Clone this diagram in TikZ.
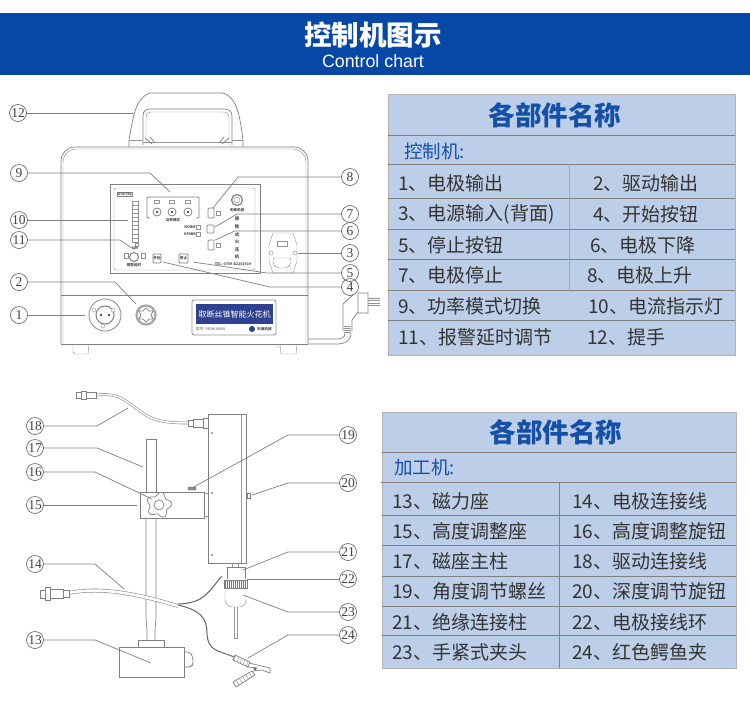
\documentclass[tikz,border=0pt]{standalone}
\usepackage{fontspec}
\setmainfont{Noto Sans CJK SC}
\newfontfamily\numfont{Liberation Serif}
\newfontfamily\latfont{Liberation Sans}
\usepackage{tikz}
\usetikzlibrary{positioning}
\definecolor{bannerblue}{HTML}{0747A6}
\definecolor{tablefill}{HTML}{BDCFE8}
\definecolor{tableblue}{HTML}{1450A8}
\definecolor{tabletext}{HTML}{333333}
\definecolor{plateblue}{HTML}{2F418F}

\begin{document}
\begin{tikzpicture}[
        x=1pt, y=-1pt,
        numtag/.style={circle, draw=black!65, line width=.6pt, inner sep=0pt, minimum size=17pt, font=\numfont\fontsize{13.5}{14}\selectfont, text=black!75},
        lead/.style={draw=black!50, line width=.7pt},
        part/.style={draw=black!50, line width=.7pt},
        thin part/.style={draw=black!42, line width=.45pt},
        cable/.style={draw=black!45, line width=.6pt, double=white, double distance=1.5pt},
        rowtext/.style={anchor=west, text=tabletext, inner sep=0pt, font=\fontsize{19}{20}\selectfont},
        headtext/.style={text=tableblue, inner sep=0pt, font=\bfseries\fontsize{26.5}{28}\selectfont},
        subtext/.style={anchor=west, text=tableblue, inner sep=0pt, font=\fontsize{18.5}{20}\selectfont},
        tiny/.style={inner sep=0pt, text=black!70, font=\bfseries\fontsize{3.6}{4}\selectfont},
        gridline/.style={draw=black!50, line width=.7pt}
      ]
      \useasboundingbox (0,0) rectangle (750,713);
      \fill[white] (0,0) rectangle (750,713);

      % banner
      \fill[bannerblue] (0,13) rectangle (750,75);
      \node[text=white, inner sep=0pt, font=\bfseries\fontsize{27.5}{28}\selectfont] (bannerzh) at (373,35) {控制机图示};
      \node[text=white, inner sep=0pt, font=\latfont\fontsize{17.8}{18}\selectfont] (banneren) at (373,61) {Control chart};

      % upper table
      \fill[tablefill] (388,94) rectangle (735,355);
      \draw[black!30, line width=.7pt] (388,94) rectangle (735,355);
      \foreach \y in {135,164,198,229,259,290,320}
        \draw[gridline] (388,\y) -- (735,\y);
      \draw[black!35, line width=1pt] (569,164) -- (569,291);
      \node[headtext] (head1) at (555,115) {各部件名称};
      \node[subtext] (sub1) at (404,151) {控制机:};
      \node[rowtext] (r1) at (398,183) {1、电极输出};
      \node[rowtext] (r2) at (593,183) {2、驱动输出};
      \node[rowtext] (r3) at (398,214) {3、电源输入(背面)};
      \node[rowtext] (r4) at (593,214) {4、开始按钮};
      \node[rowtext] (r5) at (398,245) {5、停止按钮};
      \node[rowtext] (r6) at (590,245) {6、电极下降};
      \node[rowtext] (r7) at (398,275) {7、电极停止};
      \node[rowtext] (r8) at (587,275) {8、电极上升};
      \node[rowtext] (r9) at (398,306) {9、功率模式切换};
      \node[rowtext] (r10) at (588,306) {10、电流指示灯};
      \node[rowtext] (r11) at (398,337) {11、报警延时调节};
      \node[rowtext] (r12) at (587,337) {12、提手};

      % lower table
      \fill[tablefill] (382,412) rectangle (736,668);
      \draw[black!30, line width=.7pt] (382,412) rectangle (736,668);
      \foreach \y in {452,515,545,576,606,635}
        \draw[gridline] (382,\y) -- (736,\y);
      \draw[gridline] (381,482) -- (736,482);
      \draw[gridline] (559,482) -- (559,668);
      \node[headtext] (head2) at (556,432) {各部件名称};
      \node[subtext] (sub2) at (394,467) {加工机:};
      \node[rowtext] (r13) at (392,501) {13、磁力座};
      \node[rowtext] (r14) at (572,501) {14、电极连接线};
      \node[rowtext] (r15) at (392,531) {15、高度调整座};
      \node[rowtext] (r16) at (572,531) {16、高度调整旋钮};
      \node[rowtext] (r17) at (392,561) {17、磁座主柱};
      \node[rowtext] (r18) at (572,561) {18、驱动连接线};
      \node[rowtext] (r19) at (392,591) {19、角度调节螺丝};
      \node[rowtext] (r20) at (572,591) {20、深度调节旋钮};
      \node[rowtext] (r21) at (392,622) {21、绝缘连接柱};
      \node[rowtext] (r22) at (572,622) {22、电极接线环};
      \node[rowtext] (r23) at (392,652) {23、手紧式夹头};
      \node[rowtext] (r24) at (572,652) {24、红色鳄鱼夹};

      % control box: handle
      \draw[part] (129,147) -- (129,140) .. controls (133,118) and (135,98) .. (150,93) -- (223,93) .. controls (238,98) and (240,118) .. (243,140) -- (243,147);
      \draw[part] (143,145) -- (143,116) .. controls (143,111) and (146,109) .. (150,109) -- (224,109) .. controls (229,109) and (232,111) .. (232,116) -- (232,145);
      \draw[thin part] (146,145) -- (146,118) .. controls (146,114) and (148,112) .. (151,112) -- (223,112) .. controls (227,112) and (229,114) .. (229,118) -- (229,145);
      \draw[thin part] (129,140) -- (143,140) (232,140) -- (243,140) (143,142) -- (232,142);
      \draw[part] (145,138) -- (152,144) (150,137) -- (155,143) (229,138) -- (222,144) (224,137) -- (219,143);

      % control box: body
      \draw[part, rounded corners=14pt] (61,344) -- (61,147) -- (308,147) -- (308,344);
      \draw[thin part, rounded corners=13pt] (63,344) -- (63,149) -- (306,149) -- (306,344);
      \draw[part, line width=1pt] (61,344) -- (308,344);
      \draw[part, line width=1pt] (61,295) -- (308,295);
      \draw[thin part] (73,344) -- (73,352) -- (75,354) -- (88,354) -- (89,344);
      \draw[thin part] (280,344) -- (281,354) -- (296,354) -- (297,344) (276,344) -- (276,347) -- (280,347);

      % control box: panel
      \draw[part] (110,184) rectangle (260,273);
      \draw[thin part, rounded corners=2pt] (114,188) rectangle (255,270);
      \node[draw=black!50, line width=.4pt, inner sep=.6pt, text=black!70, font=\bfseries\fontsize{3.4}{4}\selectfont] (digital) at (125,194) {DIGITAL};
      \foreach \i in {0,...,9}
        \draw[thin part] (132,{201+4.1*\i}) rectangle (138,{205.1+4.1*\i});
      \draw[part, line width=.8pt, rounded corners=1pt] (150,218) -- (147,218) -- (147,197) -- (199,197) -- (199,218) -- (196,218);
      \foreach \x in {157,172,188} {
        \draw[thin part] (\x-2.5,200) rectangle (\x+2.5,203);
        \draw[part, line width=.8pt] (\x,212) circle (4);
        \fill[black!70] (\x,212) circle (1.3);
      }
      \node[tiny] (modetext) at (173,220) {功率模式};
      \draw[thin part] (135,243) rectangle (138,246);
      \draw[thin part] (124,253) rectangle (128,258);
      \draw[thin part] (141,253) rectangle (145,258);
      \node[tiny, font=\bfseries\fontsize{3}{3}\selectfont] (alarmtop) at (135,248.5) {延时};
      \draw[part, line width=1pt] (134,257) circle (4.5);
      \node[tiny] (alarmtext) at (134,265) {报警延时};
      \draw[part, line width=.8pt, rounded corners=1pt] (153,254) rectangle (161,263);
      \node[tiny] (starttext) at (157,258.5) {开始};
      \draw[part, line width=.8pt, rounded corners=1pt] (179,254) rectangle (188,263);
      \node[tiny] (stoptext) at (183.5,258.5) {停止};
      \node[tiny] (normtext) at (190,227) {NORM};
      \node[tiny] (sparktext) at (190,234) {SPARK};
      \draw[thin part] (196,225.5) rectangle (200,229);
      \draw[thin part] (196,232.5) rectangle (200,236);
      \draw[part, rounded corners=1pt] (208,208) rectangle (214,218);
      \draw[part, rounded corners=1pt] (208,240) rectangle (214,250);
      \draw[part, rounded corners=1pt] (207,225) rectangle (214,233);
      \draw[thin part] (216,211) rectangle (220,215);
      \draw[thin part] (216,243) rectangle (220,247);
      \draw[part, line width=1.2pt] (237,200) circle (5.5);
      \draw[thin part] (237,200) circle (3);
      \node[tiny] (logotext) at (237,210) {无痕机械};
      \node[tiny, font=\bfseries\fontsize{4.4}{5}\selectfont] (vt1) at (237,219) {便};
      \node[tiny, font=\bfseries\fontsize{4.4}{5}\selectfont] (vt2) at (237,227) {携};
      \node[tiny, font=\bfseries\fontsize{4.4}{5}\selectfont] (vt3) at (237,235) {式};
      \node[tiny, font=\bfseries\fontsize{4.4}{5}\selectfont] (vt4) at (237,242) {火};
      \node[tiny, font=\bfseries\fontsize{4.4}{5}\selectfont] (vt5) at (237,250) {花};
      \node[tiny, font=\bfseries\fontsize{4.4}{5}\selectfont] (vt6) at (237,257) {机};
      \node[tiny] (teltext) at (233,264) {TEL: 0769-82261919};

      % control box: lower front
      \draw[thin part, line width=.9pt] (105,315) circle (16);
      \draw[part, line width=1pt] (105,315) circle (9);
      \fill[black!70] (101,315) circle (1.3) (109,315) circle (1.3);
      \draw[thin part, fill=white] (94,310) circle (2) (113,310) circle (2) (103,326) circle (2);
      \draw[black!35, line width=2.2pt] (146,315) circle (9.5);
      \draw[part, fill=white] plot[smooth cycle, tension=.5] coordinates {(146,308) (149,311) (153,311) (151,315) (153,319) (149,319) (146,322) (143,319) (139,319) (141,315) (139,311) (143,311)};
      \draw[thin part, rounded corners=2pt, line width=.9pt] (192,300) rectangle (276,335);
      \fill[plateblue] (196,304) rectangle (273,324);
      \node[text=white, inner sep=0pt, font=\fontsize{8}{9}\selectfont] (platetext) at (234.5,314) {取断丝锥智能火花机};
      \node[tiny, anchor=west, font=\fontsize{3.6}{4}\selectfont] (modeltext) at (196,329) {型号: YSDM-M400};
      \fill[plateblue] (252,329) circle (3);
      \node[tiny, anchor=west] (brandtext) at (257,329) {无痕机械};

      % control box: inlet and power plug
      \draw[thin part] (273,233) -- (293,233) -- (297,245) -- (297,261) -- (293,273) -- (273,273) -- (269,261) -- (269,245) -- cycle;
      \draw[thin part] (277,241) rectangle (287,246);
      \draw[thin part, rounded corners=2pt] (273,258) -- (291,258) -- (291,264) -- (287,268) -- (277,268) -- (273,264) -- cycle;
      \draw[thin part, fill=white] (271,253) circle (2) (295,253) circle (2);
      \draw[part] (343,331) -- (343,304) -- (354,294);
      \draw[part] (352,331) -- (352,320) -- (358,312) -- (358,293) -- (368,293) -- (368,313) -- (358,313);
      \draw[thin part] (368,298) -- (380,298) (368,300) -- (380,300) (368,303) -- (380,303) (368,305) -- (380,305);
      \draw[thin part] (344,326) -- (351,326) (344,328) -- (351,328) (344,330) -- (351,330) (344,332) -- (351,332);
      \draw[part] (345,333) .. controls (345,338) and (341,339) .. (336,339) -- (308,339);
      \draw[part] (351,333) .. controls (351,341) and (345,344) .. (336,344) -- (308,344);

      % machine: column and base
      \draw[part] (146,492) -- (146,439) -- (156,439) -- (156,492);
      \draw[part] (146,518) -- (146,618) -- (147,630) -- (147,640) (156,518) -- (156,618) -- (155,630) -- (155,640);
      \draw[part] (138,647) -- (138,640) -- (164,640) -- (164,647);
      \draw[part] (119,647) rectangle (184,677);
      \draw[part, rounded corners=2pt] (184,652) -- (190,652) -- (193,658) -- (193,665) -- (190,667) -- (184,667);

      % machine: clamp block and knob
      \draw[part] (140,492) rectangle (204,518);
      \draw[thin part] (204,493) -- (208,493) (204,516) -- (208,516);
      \draw[part, fill=white] plot[smooth cycle, samples=40, domain=0:351] ({159+(11+2*cos(5*\x+30))*cos(\x)},{505+(11+2*cos(5*\x+30))*sin(\x)});
      \draw[part] (159,505) circle (5);
      \draw[fill=black!45, draw=black!60, rounded corners=1pt] (188,487) rectangle (196,490);

      % machine: head
      \draw[part] (208,414) rectangle (246,563);
      \draw[thin part] (241,414) -- (241,563);
      \fill[black!70] (212,433) circle (.8) (212,493) circle (.8) (212,555) circle (.8);
      \draw[part] (247,493) rectangle (250,498);
      \draw[thin part] (232,563) -- (232,567) (238,563) -- (238,567);
      \draw[part] (227,567) -- (245,567) -- (245,579) (227,567) -- (227,579);
      \foreach \x in {225,227,...,247}
        \draw[black!55, line width=.7pt] (\x,580) -- (\x,588);
      \draw[part] (224,580) rectangle (247,588);
      \draw[thin part] (225,588) -- (225,600) .. controls (226,604) and (229,607) .. (232,607) -- (239,607) .. controls (243,607) and (246,604) .. (246,600) -- (246,588);
      \draw[thin part] (234,607) -- (234,638) -- (237,638) -- (237,607);

      % machine: cables, plugs, clamp
      \draw[cable] (96,395) .. controls (120,392) and (128,403) .. (140,411) .. controls (150,419) and (160,423) .. (188,423);
      \draw[part, fill=white] (76,392) rectangle (81,398) (81,391) rectangle (86,399) (86,392) rectangle (96,398);
      \draw[part, fill=white] (188,420) rectangle (193,426) (193,419) rectangle (203,427) (203,418) rectangle (208,428);
      \draw[cable, double distance=2.6pt] (68,593) .. controls (95,588) and (125,590) .. (178,606);
      \draw[part, fill=white] (40,590) rectangle (45,598) (45,587) rectangle (50,600) (50,589) rectangle (63,598) (63,590) rectangle (69,597);
      \draw[black!60, line width=1pt] (178,604) .. controls (205,603) and (208,592) .. (222,576);
      \draw[black!60, line width=1pt] (178,605) .. controls (200,610) and (207,618) .. (207,633) .. controls (208,652) and (218,650) .. (234,657);
      \draw[part, fill=white] (235,655) -- (250,662) -- (248,667) -- (233,660) -- cycle;
      \foreach \i in {0,...,4}
        \draw[thin part] ({236+3*\i},{655.5+1.4*\i}) -- ({234+3*\i},{660.5+1.4*\i});
      \draw[part, fill=white] (233,682) -- (252,671) -- (255,675) -- (236,687) -- cycle;
      \foreach \i in {0,...,4}
        \draw[thin part] ({236+3.2*\i},{680-2*\i}) -- ({239+3.2*\i},{685-2*\i});
      \draw[part] (249,663) -- (270,668) -- (270,673) -- (262,670) -- (253,671);
      \draw[part] (248,667) -- (258,668);
      \fill[black!60] (255,669) circle (1.6);

      % leaders: control box
      \node[numtag] (n12) at (18,113) {12};
      \node[numtag] (n9) at (19,173) {9};
      \node[numtag] (n10) at (19,220) {10};
      \node[numtag] (n11) at (19,240) {11};
      \node[numtag] (n2) at (19,282) {2};
      \node[numtag] (n1) at (19,315) {1};
      \node[numtag] (n8) at (350,177) {8};
      \node[numtag] (n7) at (350,214) {7};
      \node[numtag] (n6) at (350,231) {6};
      \node[numtag] (n3) at (350,253) {3};
      \node[numtag] (n5) at (350,273) {5};
      \node[numtag] (n4) at (350,287) {4};
      \coordinate (p12) at (133,113);
      \coordinate (p9) at (170,192);
      \coordinate (p10) at (128,220);
      \coordinate (p11) at (132,248);
      \coordinate (p2) at (136,304);
      \coordinate (p1) at (85,315);
      \coordinate (p8) at (213,208);
      \coordinate (p7) at (215,227);
      \coordinate (p6) at (215,240);
      \coordinate (p3) at (298,253);
      \coordinate (p5) at (193,262);
      \coordinate (p4) at (163,262);
      \draw[lead] (n12) -- (p12);
      \draw[lead] (n9) -- (150,173) -- (p9);
      \draw[lead] (n10) -- (p10);
      \draw[lead] (n11) -- (120,240) -- (p11);
      \draw[lead] (n2) -- (115,282) -- (p2);
      \draw[lead] (n1) -- (p1);
      \draw[lead] (n8) -- (238,177) -- (p8);
      \draw[lead] (n7) -- (237,214) -- (p7);
      \draw[lead] (n6) -- (235,231) -- (p6);
      \draw[lead] (n3) -- (p3);
      \draw[lead] (n5) -- (267,273) -- (p5);
      \draw[lead] (n4) -- (270,287) -- (p4);

      % leaders: machine
      \node[numtag] (n18) at (35,426) {18};
      \node[numtag] (n17) at (35,448) {17};
      \node[numtag] (n16) at (35,472) {16};
      \node[numtag] (n15) at (35,505) {15};
      \node[numtag] (n14) at (35,564) {14};
      \node[numtag] (n13) at (35,640) {13};
      \node[numtag] (n19) at (348,435) {19};
      \node[numtag] (n20) at (348,483) {20};
      \node[numtag] (n21) at (348,552) {21};
      \node[numtag] (n22) at (348,579) {22};
      \node[numtag] (n23) at (348,612) {23};
      \node[numtag] (n24) at (348,635) {24};
      \coordinate (p18) at (128,408);
      \coordinate (p17) at (143,467);
      \coordinate (p16) at (152,499);
      \coordinate (p15) at (137,505);
      \coordinate (p14) at (124,589);
      \coordinate (p13) at (151,663);
      \coordinate (p19) at (192,488);
      \coordinate (p20) at (252,495);
      \coordinate (p21) at (243,570);
      \coordinate (p22) at (247,579);
      \coordinate (p23) at (243,595);
      \coordinate (p24) at (248,658);
      \draw[lead] (n18) -- (97,426) -- (p18);
      \draw[lead] (n17) -- (97,448) -- (p17);
      \draw[lead] (n16) -- (95,472) -- (p16);
      \draw[lead] (n15) -- (p15);
      \draw[lead] (n14) -- (95,564) -- (p14);
      \draw[lead] (n13) -- (95,640) -- (p13);
      \draw[lead] (n19) -- (288,435) -- (p19);
      \draw[lead] (n20) -- (288,483) -- (p20);
      \draw[lead] (n21) -- (288,552) -- (p21);
      \draw[lead] (n22) -- (p22);
      \draw[lead] (n23) -- (288,612) -- (p23);
      \draw[lead] (n24) -- (288,635) -- (p24);
    \end{tikzpicture}
\end{document}
